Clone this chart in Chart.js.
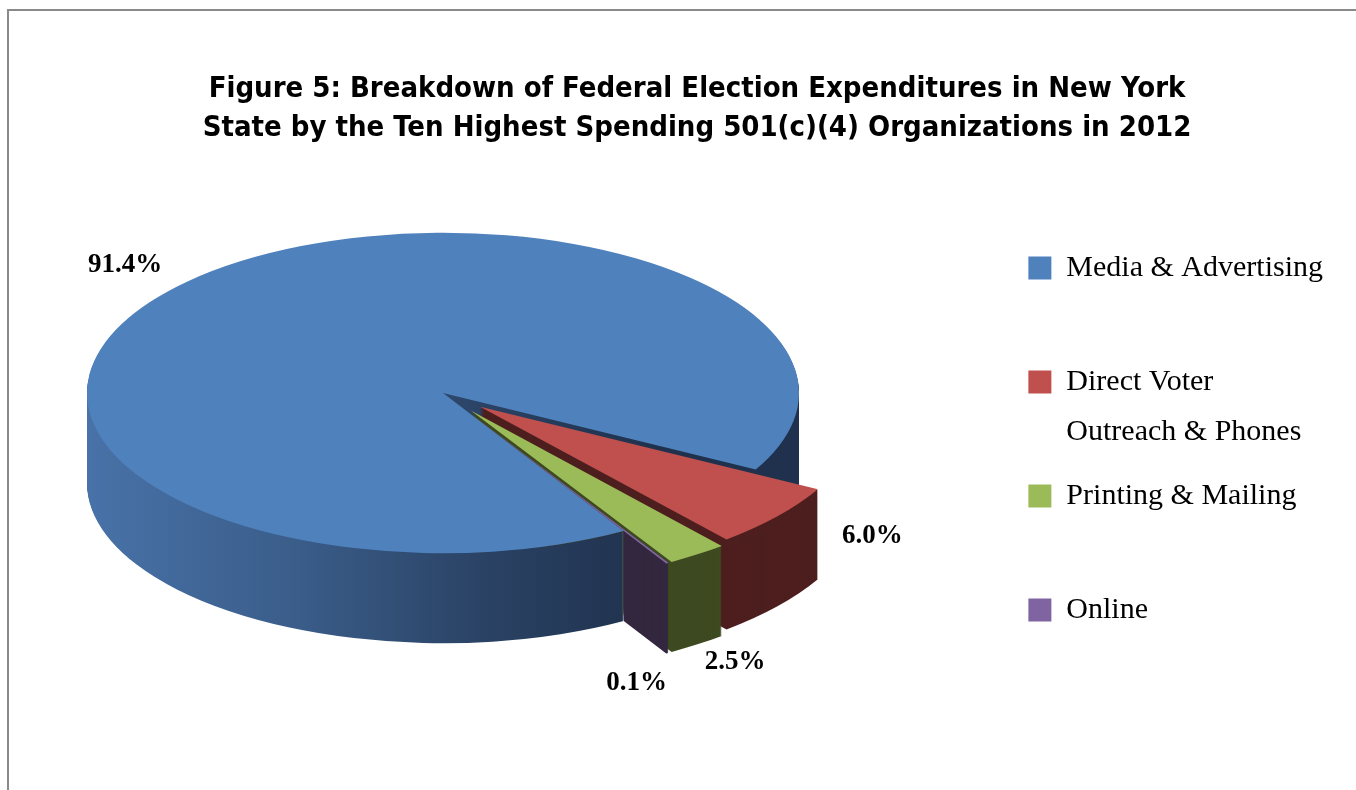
<!DOCTYPE html>
<html>
<head>
<meta charset="utf-8">
<title>Figure 5</title>
<script src="https://cdn.jsdelivr.net/npm/chart.js@4.4.1/dist/chart.umd.min.js"></script>
<style>
  html, body { margin: 0; padding: 0; background: #fff; }
  #wrap { position: relative; width: 1356px; height: 790px; overflow: hidden; }
  #frame {
    position: absolute; left: 7px; top: 9px; right: -10px; bottom: -10px;
    border-left: 2px solid #8a8a8a; border-top: 2px solid #8a8a8a;
  }
  #pie { position: absolute; left: 0; top: 0; }
</style>
</head>
<body>
<div id="wrap">
  <div id="frame"></div>
  <canvas id="pie" width="1356" height="790"></canvas>
</div>
<script>
// categories (legend lines), shares in percent
const categories = [
  ['Media & Advertising'],
  ['Direct Voter', 'Outreach & Phones'],
  ['Printing & Mailing'],
  ['Online']
];
const shares = [91.4, 6.0, 2.5, 0.1];

const topColors = ['#4f81bd', '#c0504d', '#9bbb59', '#8064a2'];
const sideColors = ['blue-gradient', '#4e1f1f', '#3e4a21', '#33283f'];

// fake 3D: squash the pie, stack darker copies under it, pull small slices out
function paintArc(ctx, arc, fill, pull, near, drop) {
  const mid = (arc.startAngle + arc.endAngle) / 2;
  const saved = arc.options;
  ctx.save();
  ctx.translate(0, drop);
  ctx.translate(Math.cos(mid) * pull, Math.sin(mid) * pull);
  ctx.translate(arc.x, arc.y);
  ctx.scale(near, near);
  ctx.translate(-arc.x, -arc.y);
  arc.options = Object.assign({}, saved, { backgroundColor: fill, borderWidth: 0, offset: 0 });
  arc.draw(ctx);
  arc.options = saved;
  ctx.restore();
}

const tilt3d = {
  id: 'tilt3d',
  beforeDatasetsDraw(chart, args, opts) {
    const ctx = chart.ctx;
    const arcs = chart.getDatasetMeta(0).data;
    const cx = arcs[0].x, cy = arcs[0].y, r = arcs[0].outerRadius;
    ctx.save();
    ctx.translate(opts.centerX, opts.centerY);
    ctx.scale(1, opts.tilt);
    ctx.translate(-cx, -cy);

    const grad = ctx.createLinearGradient(cx - r, 0, cx + r * 0.6, 0);
    grad.addColorStop(0, '#4872a8');
    grad.addColorStop(0.35, '#3b5e8b');
    grad.addColorStop(0.7, '#2a4264');
    grad.addColorStop(1, '#1f314c');

    // the big slice's front wall hides the pulled-out walls left of its cut edge
    const xCut = cx + r * Math.cos(arcs[0].startAngle);

    arcs.forEach((arc, i) => {
      const fill = sideColors[i] === 'blue-gradient' ? grad : sideColors[i];
      ctx.save();
      if (i > 0) {
        ctx.beginPath();
        ctx.rect(xCut, cy - 5000, 5000, 10000);
        ctx.rect(cx - 5000, cy - 5000, 10000, 5000);
        ctx.arc(cx, cy, r, 0, Math.PI * 2);
        ctx.clip();
      }
      for (let d = opts.depth; d > 0; d--) {
        paintArc(ctx, arc, fill, opts.explode[i], opts.near[i], d / opts.tilt);
      }
      ctx.restore();
    });
    // top faces
    arcs.forEach((arc, i) => {
      paintArc(ctx, arc, topColors[i], opts.explode[i], opts.near[i], 0);
    });
    ctx.restore();

    // value labels
    ctx.save();
    ctx.font = 'bold 27px "Liberation Serif", "Times New Roman", serif';
    ctx.fillStyle = '#000';
    ctx.textAlign = 'center';
    ctx.textBaseline = 'middle';
    arcs.forEach((arc, i) => {
      const mid = (arc.startAngle + arc.endAngle) / 2;
      const x = opts.centerX + arc.outerRadius * Math.cos(mid);
      const y = opts.centerY + arc.outerRadius * Math.sin(mid) * opts.tilt;
      const n = opts.labelNudge[i];
      ctx.fillText(shares[i].toFixed(1) + '%', x + n[0], y + n[1]);
    });
    ctx.restore();
    return false;
  }
};

new Chart(document.getElementById('pie'), {
  type: 'pie',
  data: {
    labels: categories.map(c => c.join(' ')),
    datasets: [{
      data: shares,
      backgroundColor: topColors,
      borderWidth: 0,
      clip: false
    }]
  },
  options: {
    responsive: false,
    animation: false,
    rotation: 149.5,
    radius: 356,
    layout: { padding: { top: 70, left: 61, right: 23, bottom: 0 } },
    plugins: {
      title: {
        display: true,
        text: [
          'Figure 5: Breakdown of Federal Election Expenditures in New York',
          'State by the Ten Highest Spending 501(c)(4) Organizations in 2012'
        ],
        color: '#000',
        font: { family: '"DejaVu Sans Condensed", "DejaVu Sans", sans-serif', size: 29, weight: 'bold', lineHeight: 1.345 },
        padding: { top: 0, bottom: 91 }
      },
      legend: {
        position: 'right',
        align: 'start',
        fullSize: false,
        labels: {
          color: '#000',
          font: { family: '"Liberation Serif", "Times New Roman", serif', size: 30, lineHeight: 1.667 },
          boxWidth: 23,
          boxHeight: 23,
          padding: 14,
          generateLabels() {
            return categories.map((lines, i) => ({
              text: lines.length > 1 ? lines : [lines[0], ''],
              fillStyle: topColors[i],
              strokeStyle: topColors[i],
              lineWidth: 0,
              hidden: false,
              index: i
            }));
          }
        }
      },
      tooltip: { enabled: false },
      tilt3d: {
        centerX: 443,
        centerY: 393,
        tilt: 0.45,
        depth: 90,
        explode: [0, 48, 48, 48],
        near: [1, 1.08, 1.1, 1.1],
        labelNudge: [[-62, -17], [154, 41], [86, 138], [12, 152]]
      }
    }
  },
  plugins: [tilt3d]
});
</script>
</body>
</html>
